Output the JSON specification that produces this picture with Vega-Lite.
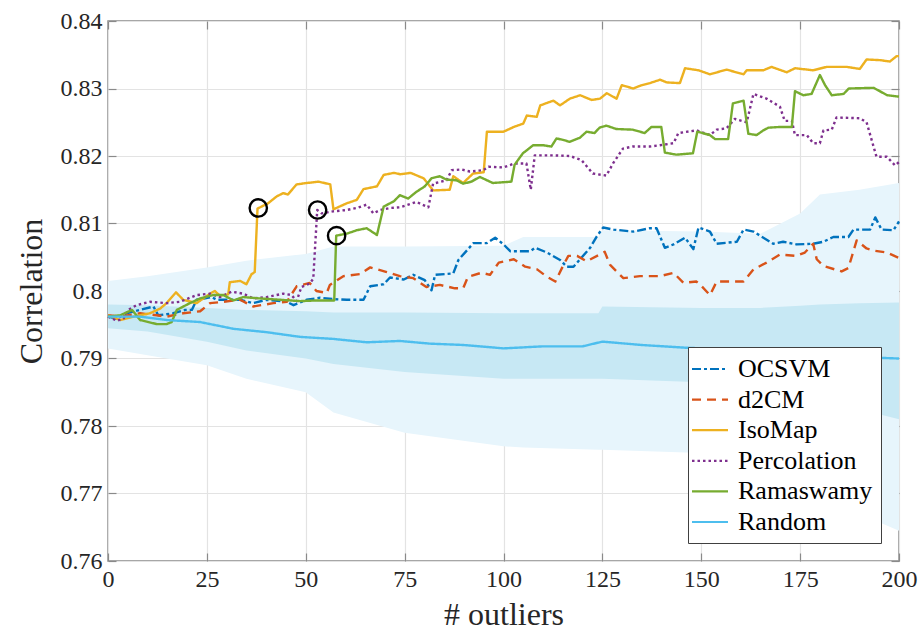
{
  "$schema": "https://vega.github.io/schema/vega-lite/v6.json",
  "width": 791,
  "height": 540,
  "autosize": {"type": "none"},
  "padding": {"left": 108, "top": 21, "right": 22, "bottom": 76},
  "background": "white",
  "config": {
    "view": {"stroke": "#8a8a8a", "strokeWidth": 1.5},
    "font": "Liberation Serif",
    "style": {
      "guide-label": {"font": "Liberation Serif", "fill": "#262626"},
      "guide-title": {"font": "Liberation Serif", "fill": "#262626", "fontWeight": "normal"}
    },
    "axis": {
      "labelFont": "Liberation Serif",
      "titleFont": "Liberation Serif",
      "labelFontSize": 24,
      "titleFontSize": 32,
      "titleFontWeight": "normal",
      "labelColor": "#262626",
      "titleColor": "#262626",
      "gridColor": "#e3e3e3",
      "gridWidth": 1.2,
      "domain": false,
      "tickColor": "#8a8a8a",
      "tickWidth": 1.2,
      "tickSize": -8,
      "zindex": 1
    },
    "legend": {
      "orient": "none",
      "legendX": 580,
      "legendY": 326,
      "fillColor": "white",
      "strokeColor": "#404040",
      "padding": 8,
      "symbolType": "M-1.44,0H1.44",
      "symbolSize": 625,
      "symbolStrokeWidth": 2.2,
      "symbolFillColor": "transparent",
      "labelFont": "Liberation Serif",
      "labelFontSize": 26,
      "labelColor": "black",
      "labelOffset": 14,
      "rowPadding": 3.6,
      "labelLimit": 300
    }
  },
  "datasets": {
    "bands": [
      {"n": 0, "lightLo": 0.7915, "lightHi": 0.8015, "darkLo": 0.7945, "darkHi": 0.798},
      {"n": 10, "lightLo": 0.7905, "lightHi": 0.8022, "darkLo": 0.794, "darkHi": 0.7979},
      {"n": 25, "lightLo": 0.789, "lightHi": 0.8035, "darkLo": 0.7925, "darkHi": 0.7975},
      {"n": 35, "lightLo": 0.787, "lightHi": 0.8045, "darkLo": 0.7912, "darkHi": 0.7972},
      {"n": 50, "lightLo": 0.785, "lightHi": 0.8055, "darkLo": 0.79, "darkHi": 0.797},
      {"n": 57, "lightLo": 0.782, "lightHi": 0.8066, "darkLo": 0.7892, "darkHi": 0.7968},
      {"n": 75, "lightLo": 0.779, "lightHi": 0.8066, "darkLo": 0.788, "darkHi": 0.7968},
      {"n": 100, "lightLo": 0.777, "lightHi": 0.8067, "darkLo": 0.787, "darkHi": 0.7967},
      {"n": 105, "lightLo": 0.7768, "lightHi": 0.808, "darkLo": 0.787, "darkHi": 0.7967},
      {"n": 124, "lightLo": 0.7765, "lightHi": 0.808, "darkLo": 0.787, "darkHi": 0.7967},
      {"n": 125, "lightLo": 0.7765, "lightHi": 0.809, "darkLo": 0.787, "darkHi": 0.7977},
      {"n": 150, "lightLo": 0.776, "lightHi": 0.8088, "darkLo": 0.7865, "darkHi": 0.7975},
      {"n": 165, "lightLo": 0.7745, "lightHi": 0.8085, "darkLo": 0.786, "darkHi": 0.7975},
      {"n": 175, "lightLo": 0.7725, "lightHi": 0.8115, "darkLo": 0.785, "darkHi": 0.7978},
      {"n": 180, "lightLo": 0.771, "lightHi": 0.8143, "darkLo": 0.784, "darkHi": 0.798},
      {"n": 190, "lightLo": 0.767, "lightHi": 0.815, "darkLo": 0.7825, "darkHi": 0.7982},
      {"n": 200, "lightLo": 0.7645, "lightHi": 0.816, "darkLo": 0.781, "darkHi": 0.7983}
    ],
    "curves": [
      {"method": "OCSVM", "n": 0, "corr": 0.7962}, {"method": "OCSVM", "n": 2.2, "corr": 0.7959}, {"method": "OCSVM", "n": 4.7, "corr": 0.7967}, {"method": "OCSVM", "n": 8.1, "corr": 0.7972}, {"method": "OCSVM", "n": 11.5, "corr": 0.7977}, {"method": "OCSVM", "n": 12.7, "corr": 0.7964}, {"method": "OCSVM", "n": 16.5, "corr": 0.7967}, {"method": "OCSVM", "n": 19.5, "corr": 0.7972}, {"method": "OCSVM", "n": 21.2, "corr": 0.7972}, {"method": "OCSVM", "n": 22.4, "corr": 0.7987}, {"method": "OCSVM", "n": 26.2, "corr": 0.7991}, {"method": "OCSVM", "n": 27.5, "corr": 0.7987}, {"method": "OCSVM", "n": 33.4, "corr": 0.7987}, {"method": "OCSVM", "n": 36.7, "corr": 0.7982}, {"method": "OCSVM", "n": 40.1, "corr": 0.7987}, {"method": "OCSVM", "n": 45.2, "corr": 0.7984}, {"method": "OCSVM", "n": 46.9, "corr": 0.7979}, {"method": "OCSVM", "n": 50.2, "corr": 0.7987}, {"method": "OCSVM", "n": 53.6, "corr": 0.799}, {"method": "OCSVM", "n": 57, "corr": 0.7988}, {"method": "OCSVM", "n": 60.4, "corr": 0.7987}, {"method": "OCSVM", "n": 64.6, "corr": 0.7987}, {"method": "OCSVM", "n": 66.3, "corr": 0.8007}, {"method": "OCSVM", "n": 69.7, "corr": 0.801}, {"method": "OCSVM", "n": 71.3, "corr": 0.802}, {"method": "OCSVM", "n": 74.8, "corr": 0.8017}, {"method": "OCSVM", "n": 77.2, "corr": 0.8024}, {"method": "OCSVM", "n": 80.1, "corr": 0.8016}, {"method": "OCSVM", "n": 81.8, "corr": 0.8001}, {"method": "OCSVM", "n": 82.7, "corr": 0.8024}, {"method": "OCSVM", "n": 87.3, "corr": 0.8026}, {"method": "OCSVM", "n": 88.6, "corr": 0.8046}, {"method": "OCSVM", "n": 92.4, "corr": 0.8071}, {"method": "OCSVM", "n": 95.8, "corr": 0.8071}, {"method": "OCSVM", "n": 97.9, "corr": 0.8079}, {"method": "OCSVM", "n": 100, "corr": 0.8069}, {"method": "OCSVM", "n": 101.7, "corr": 0.8059}, {"method": "OCSVM", "n": 106.8, "corr": 0.8059}, {"method": "OCSVM", "n": 108, "corr": 0.8064}, {"method": "OCSVM", "n": 111, "corr": 0.8057}, {"method": "OCSVM", "n": 114.3, "corr": 0.8046}, {"method": "OCSVM", "n": 116, "corr": 0.8036}, {"method": "OCSVM", "n": 117.7, "corr": 0.8036}, {"method": "OCSVM", "n": 121.9, "corr": 0.8064}, {"method": "OCSVM", "n": 123.6, "corr": 0.8081}, {"method": "OCSVM", "n": 125.2, "corr": 0.8094}, {"method": "OCSVM", "n": 127.8, "corr": 0.8091}, {"method": "OCSVM", "n": 132.8, "corr": 0.8088}, {"method": "OCSVM", "n": 137, "corr": 0.8093}, {"method": "OCSVM", "n": 138.7, "corr": 0.8093}, {"method": "OCSVM", "n": 140.8, "corr": 0.8064}, {"method": "OCSVM", "n": 143, "corr": 0.8069}, {"method": "OCSVM", "n": 145.9, "corr": 0.8079}, {"method": "OCSVM", "n": 148, "corr": 0.8062}, {"method": "OCSVM", "n": 149.3, "corr": 0.8094}, {"method": "OCSVM", "n": 152.2, "corr": 0.8088}, {"method": "OCSVM", "n": 153.9, "corr": 0.807}, {"method": "OCSVM", "n": 159, "corr": 0.8073}, {"method": "OCSVM", "n": 160.7, "corr": 0.8091}, {"method": "OCSVM", "n": 163.2, "corr": 0.8088}, {"method": "OCSVM", "n": 168.2, "corr": 0.807}, {"method": "OCSVM", "n": 170.7, "corr": 0.8073}, {"method": "OCSVM", "n": 174.1, "corr": 0.8069}, {"method": "OCSVM", "n": 178.3, "corr": 0.807}, {"method": "OCSVM", "n": 180.9, "corr": 0.8073}, {"method": "OCSVM", "n": 183.4, "corr": 0.808}, {"method": "OCSVM", "n": 187.2, "corr": 0.808}, {"method": "OCSVM", "n": 188.5, "corr": 0.8091}, {"method": "OCSVM", "n": 192.7, "corr": 0.8091}, {"method": "OCSVM", "n": 194, "corr": 0.8109}, {"method": "OCSVM", "n": 195.6, "corr": 0.8091}, {"method": "OCSVM", "n": 198.6, "corr": 0.809}, {"method": "OCSVM", "n": 200, "corr": 0.8103},

      {"method": "d2CM", "n": 0, "corr": 0.7964}, {"method": "d2CM", "n": 3.1, "corr": 0.7962}, {"method": "d2CM", "n": 8.1, "corr": 0.7967}, {"method": "d2CM", "n": 12.3, "corr": 0.7964}, {"method": "d2CM", "n": 14.8, "corr": 0.7962}, {"method": "d2CM", "n": 19, "corr": 0.7967}, {"method": "d2CM", "n": 23.3, "corr": 0.797}, {"method": "d2CM", "n": 25.8, "corr": 0.7982}, {"method": "d2CM", "n": 29.2, "corr": 0.7984}, {"method": "d2CM", "n": 33.4, "corr": 0.7987}, {"method": "d2CM", "n": 36.7, "corr": 0.7977}, {"method": "d2CM", "n": 41.8, "corr": 0.7982}, {"method": "d2CM", "n": 45.2, "corr": 0.7984}, {"method": "d2CM", "n": 47.7, "corr": 0.8007}, {"method": "d2CM", "n": 51, "corr": 0.8012}, {"method": "d2CM", "n": 52.7, "corr": 0.8}, {"method": "d2CM", "n": 55.3, "corr": 0.7997}, {"method": "d2CM", "n": 56.1, "corr": 0.8009}, {"method": "d2CM", "n": 59.5, "corr": 0.8022}, {"method": "d2CM", "n": 63.7, "corr": 0.8025}, {"method": "d2CM", "n": 66.3, "corr": 0.8035}, {"method": "d2CM", "n": 70.5, "corr": 0.8028}, {"method": "d2CM", "n": 73.8, "corr": 0.8022}, {"method": "d2CM", "n": 77.2, "corr": 0.8019}, {"method": "d2CM", "n": 80.5, "corr": 0.8006}, {"method": "d2CM", "n": 83.9, "corr": 0.8009}, {"method": "d2CM", "n": 87.7, "corr": 0.8004}, {"method": "d2CM", "n": 89.8, "corr": 0.8004}, {"method": "d2CM", "n": 91, "corr": 0.8021}, {"method": "d2CM", "n": 94.4, "corr": 0.8027}, {"method": "d2CM", "n": 96.6, "corr": 0.8024}, {"method": "d2CM", "n": 98.8, "corr": 0.8042}, {"method": "d2CM", "n": 102.6, "corr": 0.8047}, {"method": "d2CM", "n": 105.5, "corr": 0.8036}, {"method": "d2CM", "n": 108.5, "corr": 0.8032}, {"method": "d2CM", "n": 111, "corr": 0.8021}, {"method": "d2CM", "n": 113.1, "corr": 0.8014}, {"method": "d2CM", "n": 115.2, "corr": 0.8039}, {"method": "d2CM", "n": 116.4, "corr": 0.8052}, {"method": "d2CM", "n": 118.6, "corr": 0.8052}, {"method": "d2CM", "n": 121, "corr": 0.8044}, {"method": "d2CM", "n": 125.6, "corr": 0.8058}, {"method": "d2CM", "n": 126.9, "corr": 0.8039}, {"method": "d2CM", "n": 130.3, "corr": 0.8019}, {"method": "d2CM", "n": 134.5, "corr": 0.8022}, {"method": "d2CM", "n": 139.6, "corr": 0.8022}, {"method": "d2CM", "n": 143, "corr": 0.8027}, {"method": "d2CM", "n": 145.5, "corr": 0.8012}, {"method": "d2CM", "n": 148.8, "corr": 0.8014}, {"method": "d2CM", "n": 150.1, "corr": 0.8007}, {"method": "d2CM", "n": 152.2, "corr": 0.7994}, {"method": "d2CM", "n": 153.9, "corr": 0.8014}, {"method": "d2CM", "n": 160.7, "corr": 0.8014}, {"method": "d2CM", "n": 163.2, "corr": 0.8032}, {"method": "d2CM", "n": 166.5, "corr": 0.8042}, {"method": "d2CM", "n": 169.9, "corr": 0.8054}, {"method": "d2CM", "n": 174.1, "corr": 0.8052}, {"method": "d2CM", "n": 176.2, "corr": 0.8057}, {"method": "d2CM", "n": 178.3, "corr": 0.807}, {"method": "d2CM", "n": 179.2, "corr": 0.8047}, {"method": "d2CM", "n": 180.9, "corr": 0.8037}, {"method": "d2CM", "n": 185.5, "corr": 0.8029}, {"method": "d2CM", "n": 187.2, "corr": 0.8034}, {"method": "d2CM", "n": 189.3, "corr": 0.8075}, {"method": "d2CM", "n": 191.8, "corr": 0.8063}, {"method": "d2CM", "n": 193.5, "corr": 0.806}, {"method": "d2CM", "n": 196.9, "corr": 0.8057}, {"method": "d2CM", "n": 200, "corr": 0.8049},

      {"method": "IsoMap", "n": 0, "corr": 0.7964}, {"method": "IsoMap", "n": 3.1, "corr": 0.7957}, {"method": "IsoMap", "n": 6.4, "corr": 0.7962}, {"method": "IsoMap", "n": 10.6, "corr": 0.7967}, {"method": "IsoMap", "n": 13.2, "corr": 0.7974}, {"method": "IsoMap", "n": 14.8, "corr": 0.7982}, {"method": "IsoMap", "n": 17.2, "corr": 0.7998}, {"method": "IsoMap", "n": 19, "corr": 0.7987}, {"method": "IsoMap", "n": 22.4, "corr": 0.7982}, {"method": "IsoMap", "n": 25.8, "corr": 0.7996}, {"method": "IsoMap", "n": 27, "corr": 0.8}, {"method": "IsoMap", "n": 28.3, "corr": 0.7993}, {"method": "IsoMap", "n": 30.4, "corr": 0.7995}, {"method": "IsoMap", "n": 30.8, "corr": 0.8013}, {"method": "IsoMap", "n": 33.4, "corr": 0.8015}, {"method": "IsoMap", "n": 35, "corr": 0.801}, {"method": "IsoMap", "n": 36.3, "corr": 0.8025}, {"method": "IsoMap", "n": 37.1, "corr": 0.8028}, {"method": "IsoMap", "n": 37.8, "corr": 0.8122}, {"method": "IsoMap", "n": 38.8, "corr": 0.8125}, {"method": "IsoMap", "n": 40.5, "corr": 0.813}, {"method": "IsoMap", "n": 42.6, "corr": 0.814}, {"method": "IsoMap", "n": 44.3, "corr": 0.8145}, {"method": "IsoMap", "n": 45.5, "corr": 0.8143}, {"method": "IsoMap", "n": 47.7, "corr": 0.8158}, {"method": "IsoMap", "n": 50.3, "corr": 0.816}, {"method": "IsoMap", "n": 53.2, "corr": 0.8162}, {"method": "IsoMap", "n": 56.2, "corr": 0.8158}, {"method": "IsoMap", "n": 57, "corr": 0.8121}, {"method": "IsoMap", "n": 60.4, "corr": 0.813}, {"method": "IsoMap", "n": 62.9, "corr": 0.8135}, {"method": "IsoMap", "n": 64.6, "corr": 0.8151}, {"method": "IsoMap", "n": 68, "corr": 0.8155}, {"method": "IsoMap", "n": 69.7, "corr": 0.8172}, {"method": "IsoMap", "n": 72.3, "corr": 0.8175}, {"method": "IsoMap", "n": 73.9, "corr": 0.8173}, {"method": "IsoMap", "n": 76.5, "corr": 0.8175}, {"method": "IsoMap", "n": 79.8, "corr": 0.8167}, {"method": "IsoMap", "n": 80.5, "corr": 0.8162}, {"method": "IsoMap", "n": 82.2, "corr": 0.8149}, {"method": "IsoMap", "n": 86.4, "corr": 0.815}, {"method": "IsoMap", "n": 87.3, "corr": 0.817}, {"method": "IsoMap", "n": 89.8, "corr": 0.816}, {"method": "IsoMap", "n": 92.3, "corr": 0.8174}, {"method": "IsoMap", "n": 95, "corr": 0.8176}, {"method": "IsoMap", "n": 95.8, "corr": 0.8236}, {"method": "IsoMap", "n": 100, "corr": 0.8236}, {"method": "IsoMap", "n": 102.6, "corr": 0.8243}, {"method": "IsoMap", "n": 105, "corr": 0.8248}, {"method": "IsoMap", "n": 105.9, "corr": 0.826}, {"method": "IsoMap", "n": 108.4, "corr": 0.8258}, {"method": "IsoMap", "n": 109.3, "corr": 0.8275}, {"method": "IsoMap", "n": 112.6, "corr": 0.8282}, {"method": "IsoMap", "n": 114.3, "corr": 0.8275}, {"method": "IsoMap", "n": 116.8, "corr": 0.8285}, {"method": "IsoMap", "n": 119.4, "corr": 0.829}, {"method": "IsoMap", "n": 122.3, "corr": 0.8283}, {"method": "IsoMap", "n": 124.4, "corr": 0.8285}, {"method": "IsoMap", "n": 126.1, "corr": 0.8293}, {"method": "IsoMap", "n": 128.6, "corr": 0.8285}, {"method": "IsoMap", "n": 129.9, "corr": 0.8305}, {"method": "IsoMap", "n": 132.8, "corr": 0.83}, {"method": "IsoMap", "n": 134.5, "corr": 0.8304}, {"method": "IsoMap", "n": 137, "corr": 0.8308}, {"method": "IsoMap", "n": 139.6, "corr": 0.8313}, {"method": "IsoMap", "n": 141.3, "corr": 0.8309}, {"method": "IsoMap", "n": 144.6, "corr": 0.8308}, {"method": "IsoMap", "n": 145.9, "corr": 0.833}, {"method": "IsoMap", "n": 149.3, "corr": 0.8327}, {"method": "IsoMap", "n": 152.2, "corr": 0.8321}, {"method": "IsoMap", "n": 156.4, "corr": 0.8328}, {"method": "IsoMap", "n": 160.7, "corr": 0.8321}, {"method": "IsoMap", "n": 161.5, "corr": 0.8327}, {"method": "IsoMap", "n": 165.7, "corr": 0.8327}, {"method": "IsoMap", "n": 167.8, "corr": 0.8332}, {"method": "IsoMap", "n": 171.6, "corr": 0.8324}, {"method": "IsoMap", "n": 173.7, "corr": 0.833}, {"method": "IsoMap", "n": 178.3, "corr": 0.8327}, {"method": "IsoMap", "n": 181.7, "corr": 0.8332}, {"method": "IsoMap", "n": 186.8, "corr": 0.8332}, {"method": "IsoMap", "n": 190.1, "corr": 0.8329}, {"method": "IsoMap", "n": 191.8, "corr": 0.8343}, {"method": "IsoMap", "n": 195.2, "corr": 0.8342}, {"method": "IsoMap", "n": 197.7, "corr": 0.834}, {"method": "IsoMap", "n": 199.4, "corr": 0.8348}, {"method": "IsoMap", "n": 200, "corr": 0.8348},

      {"method": "Percolation", "n": 0, "corr": 0.7962}, {"method": "Percolation", "n": 2.2, "corr": 0.7956}, {"method": "Percolation", "n": 3.9, "corr": 0.7959}, {"method": "Percolation", "n": 5.1, "corr": 0.7972}, {"method": "Percolation", "n": 7.2, "corr": 0.7979}, {"method": "Percolation", "n": 10.6, "corr": 0.7984}, {"method": "Percolation", "n": 14.8, "corr": 0.7982}, {"method": "Percolation", "n": 18.2, "corr": 0.7984}, {"method": "Percolation", "n": 22.4, "corr": 0.7994}, {"method": "Percolation", "n": 25.8, "corr": 0.7996}, {"method": "Percolation", "n": 28.3, "corr": 0.7991}, {"method": "Percolation", "n": 31.3, "corr": 0.7999}, {"method": "Percolation", "n": 34.2, "corr": 0.7996}, {"method": "Percolation", "n": 36.7, "corr": 0.7989}, {"method": "Percolation", "n": 40.1, "corr": 0.7991}, {"method": "Percolation", "n": 44.3, "corr": 0.7996}, {"method": "Percolation", "n": 46.4, "corr": 0.7994}, {"method": "Percolation", "n": 47.7, "corr": 0.7985}, {"method": "Percolation", "n": 48.9, "corr": 0.8006}, {"method": "Percolation", "n": 51, "corr": 0.8011}, {"method": "Percolation", "n": 51.9, "corr": 0.8018}, {"method": "Percolation", "n": 52.9, "corr": 0.812}, {"method": "Percolation", "n": 54, "corr": 0.8115}, {"method": "Percolation", "n": 56.9, "corr": 0.8118}, {"method": "Percolation", "n": 60.4, "corr": 0.812}, {"method": "Percolation", "n": 62.9, "corr": 0.8123}, {"method": "Percolation", "n": 65.4, "corr": 0.8128}, {"method": "Percolation", "n": 67.1, "corr": 0.8115}, {"method": "Percolation", "n": 68.8, "corr": 0.812}, {"method": "Percolation", "n": 71.3, "corr": 0.8123}, {"method": "Percolation", "n": 73.9, "corr": 0.8124}, {"method": "Percolation", "n": 78, "corr": 0.8132}, {"method": "Percolation", "n": 81, "corr": 0.8124}, {"method": "Percolation", "n": 82.2, "corr": 0.8159}, {"method": "Percolation", "n": 85.6, "corr": 0.8164}, {"method": "Percolation", "n": 86.9, "corr": 0.8179}, {"method": "Percolation", "n": 89.4, "corr": 0.818}, {"method": "Percolation", "n": 91.5, "corr": 0.8177}, {"method": "Percolation", "n": 94.9, "corr": 0.8179}, {"method": "Percolation", "n": 96.2, "corr": 0.8184}, {"method": "Percolation", "n": 100, "corr": 0.8183}, {"method": "Percolation", "n": 102.8, "corr": 0.8189}, {"method": "Percolation", "n": 105.8, "corr": 0.8189}, {"method": "Percolation", "n": 106.9, "corr": 0.815}, {"method": "Percolation", "n": 107.9, "corr": 0.8201}, {"method": "Percolation", "n": 112.5, "corr": 0.8201}, {"method": "Percolation", "n": 116.8, "corr": 0.82}, {"method": "Percolation", "n": 119.7, "corr": 0.8194}, {"method": "Percolation", "n": 122.6, "corr": 0.8174}, {"method": "Percolation", "n": 126, "corr": 0.8171}, {"method": "Percolation", "n": 127.7, "corr": 0.8189}, {"method": "Percolation", "n": 130.2, "corr": 0.8211}, {"method": "Percolation", "n": 132.7, "corr": 0.8214}, {"method": "Percolation", "n": 137, "corr": 0.8214}, {"method": "Percolation", "n": 139.6, "corr": 0.8216}, {"method": "Percolation", "n": 143, "corr": 0.8219}, {"method": "Percolation", "n": 144.2, "corr": 0.8234}, {"method": "Percolation", "n": 148.8, "corr": 0.8238}, {"method": "Percolation", "n": 152.2, "corr": 0.8231}, {"method": "Percolation", "n": 153.9, "corr": 0.8239}, {"method": "Percolation", "n": 156.4, "corr": 0.8241}, {"method": "Percolation", "n": 158.5, "corr": 0.8255}, {"method": "Percolation", "n": 161.5, "corr": 0.825}, {"method": "Percolation", "n": 163.2, "corr": 0.8292}, {"method": "Percolation", "n": 166.5, "corr": 0.8285}, {"method": "Percolation", "n": 169.9, "corr": 0.8273}, {"method": "Percolation", "n": 171.1, "corr": 0.8252}, {"method": "Percolation", "n": 172.9, "corr": 0.8252}, {"method": "Percolation", "n": 173.7, "corr": 0.8231}, {"method": "Percolation", "n": 176.7, "corr": 0.8231}, {"method": "Percolation", "n": 178.3, "corr": 0.8219}, {"method": "Percolation", "n": 180, "corr": 0.8219}, {"method": "Percolation", "n": 180.9, "corr": 0.8238}, {"method": "Percolation", "n": 183, "corr": 0.8239}, {"method": "Percolation", "n": 184.2, "corr": 0.8257}, {"method": "Percolation", "n": 190.1, "corr": 0.8256}, {"method": "Percolation", "n": 191.8, "corr": 0.825}, {"method": "Percolation", "n": 194.3, "corr": 0.8199}, {"method": "Percolation", "n": 196.9, "corr": 0.8199}, {"method": "Percolation", "n": 199, "corr": 0.8186}, {"method": "Percolation", "n": 200, "corr": 0.8191},

      {"method": "Ramaswamy", "n": 0, "corr": 0.7962}, {"method": "Ramaswamy", "n": 3.1, "corr": 0.7964}, {"method": "Ramaswamy", "n": 6.1, "corr": 0.7972}, {"method": "Ramaswamy", "n": 8.1, "corr": 0.7957}, {"method": "Ramaswamy", "n": 12.3, "corr": 0.7951}, {"method": "Ramaswamy", "n": 14.8, "corr": 0.7951}, {"method": "Ramaswamy", "n": 16.1, "corr": 0.7954}, {"method": "Ramaswamy", "n": 17.4, "corr": 0.7972}, {"method": "Ramaswamy", "n": 20.7, "corr": 0.7982}, {"method": "Ramaswamy", "n": 23.3, "corr": 0.7989}, {"method": "Ramaswamy", "n": 26.6, "corr": 0.7994}, {"method": "Ramaswamy", "n": 29.2, "corr": 0.7994}, {"method": "Ramaswamy", "n": 31.7, "corr": 0.7986}, {"method": "Ramaswamy", "n": 34.2, "corr": 0.7991}, {"method": "Ramaswamy", "n": 38.4, "corr": 0.7989}, {"method": "Ramaswamy", "n": 43.5, "corr": 0.7987}, {"method": "Ramaswamy", "n": 48.6, "corr": 0.7985}, {"method": "Ramaswamy", "n": 52.8, "corr": 0.7986}, {"method": "Ramaswamy", "n": 57.2, "corr": 0.7986}, {"method": "Ramaswamy", "n": 57.7, "corr": 0.8082}, {"method": "Ramaswamy", "n": 60.4, "corr": 0.8085}, {"method": "Ramaswamy", "n": 62.9, "corr": 0.809}, {"method": "Ramaswamy", "n": 65.4, "corr": 0.8093}, {"method": "Ramaswamy", "n": 68, "corr": 0.8083}, {"method": "Ramaswamy", "n": 69.7, "corr": 0.8125}, {"method": "Ramaswamy", "n": 72.3, "corr": 0.8133}, {"method": "Ramaswamy", "n": 73.8, "corr": 0.8142}, {"method": "Ramaswamy", "n": 75.9, "corr": 0.8137}, {"method": "Ramaswamy", "n": 78, "corr": 0.8147}, {"method": "Ramaswamy", "n": 80.1, "corr": 0.8155}, {"method": "Ramaswamy", "n": 81.8, "corr": 0.8167}, {"method": "Ramaswamy", "n": 83.9, "corr": 0.817}, {"method": "Ramaswamy", "n": 85.6, "corr": 0.8165}, {"method": "Ramaswamy", "n": 88.1, "corr": 0.8164}, {"method": "Ramaswamy", "n": 89.8, "corr": 0.8159}, {"method": "Ramaswamy", "n": 91.9, "corr": 0.8162}, {"method": "Ramaswamy", "n": 94, "corr": 0.8169}, {"method": "Ramaswamy", "n": 97.3, "corr": 0.816}, {"method": "Ramaswamy", "n": 102, "corr": 0.8162}, {"method": "Ramaswamy", "n": 102.8, "corr": 0.8187}, {"method": "Ramaswamy", "n": 104.9, "corr": 0.8204}, {"method": "Ramaswamy", "n": 107.5, "corr": 0.8216}, {"method": "Ramaswamy", "n": 110, "corr": 0.8216}, {"method": "Ramaswamy", "n": 112.1, "corr": 0.8214}, {"method": "Ramaswamy", "n": 113.4, "corr": 0.8226}, {"method": "Ramaswamy", "n": 115, "corr": 0.8224}, {"method": "Ramaswamy", "n": 116.7, "corr": 0.8221}, {"method": "Ramaswamy", "n": 119.3, "corr": 0.8227}, {"method": "Ramaswamy", "n": 121, "corr": 0.8236}, {"method": "Ramaswamy", "n": 123, "corr": 0.8234}, {"method": "Ramaswamy", "n": 124.3, "corr": 0.8242}, {"method": "Ramaswamy", "n": 126, "corr": 0.8245}, {"method": "Ramaswamy", "n": 128.5, "corr": 0.824}, {"method": "Ramaswamy", "n": 132.7, "corr": 0.8239}, {"method": "Ramaswamy", "n": 135.7, "corr": 0.8234}, {"method": "Ramaswamy", "n": 137.4, "corr": 0.8243}, {"method": "Ramaswamy", "n": 139.9, "corr": 0.8243}, {"method": "Ramaswamy", "n": 140.8, "corr": 0.8205}, {"method": "Ramaswamy", "n": 143.7, "corr": 0.8202}, {"method": "Ramaswamy", "n": 147.9, "corr": 0.8204}, {"method": "Ramaswamy", "n": 149, "corr": 0.8236}, {"method": "Ramaswamy", "n": 152.2, "corr": 0.8231}, {"method": "Ramaswamy", "n": 153.5, "corr": 0.8225}, {"method": "Ramaswamy", "n": 156.8, "corr": 0.8225}, {"method": "Ramaswamy", "n": 158, "corr": 0.8278}, {"method": "Ramaswamy", "n": 159.4, "corr": 0.828}, {"method": "Ramaswamy", "n": 160.7, "corr": 0.8282}, {"method": "Ramaswamy", "n": 161.9, "corr": 0.8233}, {"method": "Ramaswamy", "n": 164, "corr": 0.8231}, {"method": "Ramaswamy", "n": 165.7, "corr": 0.8238}, {"method": "Ramaswamy", "n": 167, "corr": 0.8242}, {"method": "Ramaswamy", "n": 169.9, "corr": 0.8243}, {"method": "Ramaswamy", "n": 172.9, "corr": 0.8243}, {"method": "Ramaswamy", "n": 173.7, "corr": 0.8296}, {"method": "Ramaswamy", "n": 175.8, "corr": 0.829}, {"method": "Ramaswamy", "n": 177.9, "corr": 0.8292}, {"method": "Ramaswamy", "n": 180, "corr": 0.832}, {"method": "Ramaswamy", "n": 181.3, "corr": 0.8305}, {"method": "Ramaswamy", "n": 183, "corr": 0.829}, {"method": "Ramaswamy", "n": 186, "corr": 0.8292}, {"method": "Ramaswamy", "n": 187.3, "corr": 0.83}, {"method": "Ramaswamy", "n": 193.6, "corr": 0.8301}, {"method": "Ramaswamy", "n": 197, "corr": 0.829}, {"method": "Ramaswamy", "n": 200, "corr": 0.8288},

      {"method": "Random", "n": 0, "corr": 0.7962}, {"method": "Random", "n": 8.1, "corr": 0.7962}, {"method": "Random", "n": 14.8, "corr": 0.7957}, {"method": "Random", "n": 23.3, "corr": 0.7954}, {"method": "Random", "n": 31.7, "corr": 0.7944}, {"method": "Random", "n": 40.1, "corr": 0.7939}, {"method": "Random", "n": 48.6, "corr": 0.7932}, {"method": "Random", "n": 57, "corr": 0.7929}, {"method": "Random", "n": 65.4, "corr": 0.7924}, {"method": "Random", "n": 73.8, "corr": 0.7926}, {"method": "Random", "n": 81.4, "corr": 0.7922}, {"method": "Random", "n": 90, "corr": 0.792}, {"method": "Random", "n": 100, "corr": 0.7915}, {"method": "Random", "n": 110, "corr": 0.7918}, {"method": "Random", "n": 120, "corr": 0.7918}, {"method": "Random", "n": 125, "corr": 0.7925}, {"method": "Random", "n": 135, "corr": 0.792}, {"method": "Random", "n": 146, "corr": 0.7916}, {"method": "Random", "n": 150, "corr": 0.7915}, {"method": "Random", "n": 165, "corr": 0.791}, {"method": "Random", "n": 180, "corr": 0.7905}, {"method": "Random", "n": 190, "corr": 0.7902}, {"method": "Random", "n": 200, "corr": 0.79}
    ],
    "jumps": [
      {"n": 38, "corr": 0.8123},
      {"n": 53, "corr": 0.812},
      {"n": 57.8, "corr": 0.8082}
    ]
  },
  "resolve": {"axis": {"x": "independent", "y": "independent"}},
  "layer": [
    {
      "data": {"name": "bands"},
      "mark": {"type": "area", "color": "#e7f5fc", "opacity": 1},
      "encoding": {
        "x": {
          "field": "n",
          "type": "quantitative",
          "scale": {"domain": [0, 200], "nice": false, "zero": false},
          "axis": {"values": [0, 25, 50, 75, 100, 125, 150, 175, 200], "title": "# outliers", "labelFont": "Liberation Serif", "titleFont": "Liberation Serif", "labelPadding": 14, "titlePadding": 8, "labelFlush": false}
        },
        "y": {
          "field": "lightLo",
          "type": "quantitative",
          "scale": {"domain": [0.76, 0.84], "nice": false, "zero": false},
          "axis": {"values": [0.76, 0.77, 0.78, 0.79, 0.8, 0.81, 0.82, 0.83, 0.84], "format": "~g", "title": "Correlation", "labelFont": "Liberation Serif", "titleFont": "Liberation Serif", "labelPadding": 14, "titlePadding": 12, "labelFlush": false}
        },
        "y2": {"field": "lightHi"}
      }
    },
    {
      "data": {"name": "bands"},
      "mark": {"type": "area", "color": "#c7e8f4", "opacity": 1},
      "encoding": {
        "x": {"field": "n", "type": "quantitative", "axis": null},
        "y": {"field": "darkLo", "type": "quantitative", "axis": null},
        "y2": {"field": "darkHi"}
      }
    },
    {
      "data": {"name": "curves"},
      "mark": {"type": "line", "strokeWidth": 2.4, "strokeCap": "butt", "strokeJoin": "round"},
      "encoding": {
        "x": {"field": "n", "type": "quantitative", "axis": null},
        "y": {"field": "corr", "type": "quantitative", "axis": null},
        "color": {
          "field": "method",
          "type": "nominal",
          "title": null,
          "legend": {"labelFont": "Liberation Serif", "symbolType": "M-1.44,0H1.44"},
          "scale": {
            "domain": ["OCSVM", "d2CM", "IsoMap", "Percolation", "Ramaswamy", "Random"],
            "range": ["#0072BD", "#D95319", "#EDB120", "#7E2F8E", "#77AC30", "#4DBEEE"]
          }
        },
        "strokeDash": {
          "field": "method",
          "type": "nominal",
          "title": null,
          "legend": {"labelFont": "Liberation Serif", "symbolType": "M-1.44,0H1.44"},
          "scale": {
            "domain": ["OCSVM", "d2CM", "IsoMap", "Percolation", "Ramaswamy", "Random"],
            "range": [[9, 3, 3, 3], [9, 6], [1, 0], [2.5, 3], [1, 0], [1, 0]]
          }
        },
        "order": {"field": "n", "type": "quantitative"}
      }
    },
    {
      "data": {"name": "jumps"},
      "mark": {"type": "point", "shape": "circle", "filled": false, "size": 300, "stroke": "black", "strokeWidth": 2.4, "opacity": 1},
      "encoding": {
        "x": {
          "field": "n",
          "type": "quantitative",
          "axis": {"orient": "top", "values": [0, 25, 50, 75, 100, 125, 150, 175, 200], "labels": false, "grid": false, "title": null}
        },
        "y": {
          "field": "corr",
          "type": "quantitative",
          "axis": {"orient": "right", "values": [0.76, 0.77, 0.78, 0.79, 0.8, 0.81, 0.82, 0.83, 0.84], "labels": false, "grid": false, "title": null}
        }
      }
    }
  ]
}
